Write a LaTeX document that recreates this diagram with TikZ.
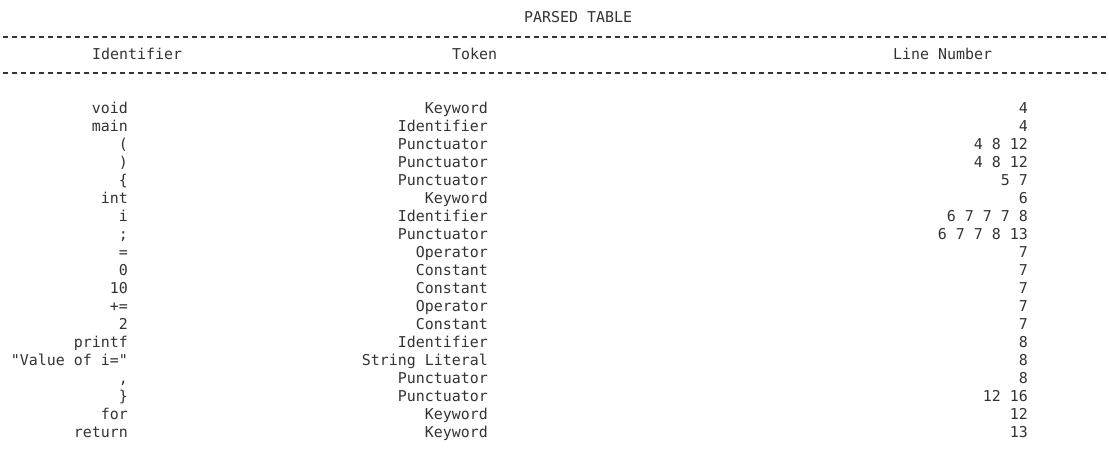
\documentclass[tikz,border=0pt]{standalone}
\usepackage{fontspec}
\setmonofont{DejaVu Sans Mono}
\usetikzlibrary{positioning}
\definecolor{termgray}{HTML}{333333}

\begin{document}
\begin{tikzpicture}[x=1pt,y=-1pt,
  cell/.style={inner sep=0pt,font=\ttfamily\fontsize{14.95}{18}\selectfont,text=termgray},
  rule/.style={draw=termgray,line width=1.4pt,dash pattern=on 4.5pt off 4.5pt}]
\useasboundingbox (0,0) rectangle (1109,471);

\node [cell,anchor=base west] (title) at (524,23) {PARSED TABLE};

\coordinate (topa) at (3.3,37);
\coordinate (topb) at (1109,37);
\coordinate (bota) at (3.3,73);
\coordinate (botb) at (1109,73);
\draw [rule] (topa) -- (topb);
\draw [rule] (bota) -- (botb);

\node [cell,anchor=base west] (hident) at (92,59) {Identifier};
\node [cell,anchor=base west] (htoken) at (452,59) {Token};
\node [cell,anchor=base west] (hline) at (893,59) {Line Number};

\begin{scope}
\def\parsed{void/Keyword/4,
  main/Identifier/4,
  {(}/Punctuator/{4 8 12},
  {)}/Punctuator/{4 8 12},
  \{/Punctuator/{5 7},
  int/Keyword/6,
  i/Identifier/{6 7 7 7 8},
  ;/Punctuator/{6 7 7 8 13},
  =/Operator/7,
  0/Constant/7,
  10/Constant/7,
  +=/Operator/7,
  2/Constant/7,
  printf/Identifier/8,
  {"Value of i="}/{String Literal}/8,
  {,}/Punctuator/8,
  \}/Punctuator/{12 16},
  for/Keyword/12,
  return/Keyword/13}
\foreach \ident / \tok / \lines [count=\i] in \parsed {
  \node [cell,anchor=base east] (id\i) at (128,95+18*\i) {\ident};
  \node [cell,anchor=base east] (tk\i) at (488,95+18*\i) {\tok};
  \node [cell,anchor=base east] (ln\i) at (1028,95+18*\i) {\lines};
}
\end{scope}
\end{tikzpicture}
\end{document}
